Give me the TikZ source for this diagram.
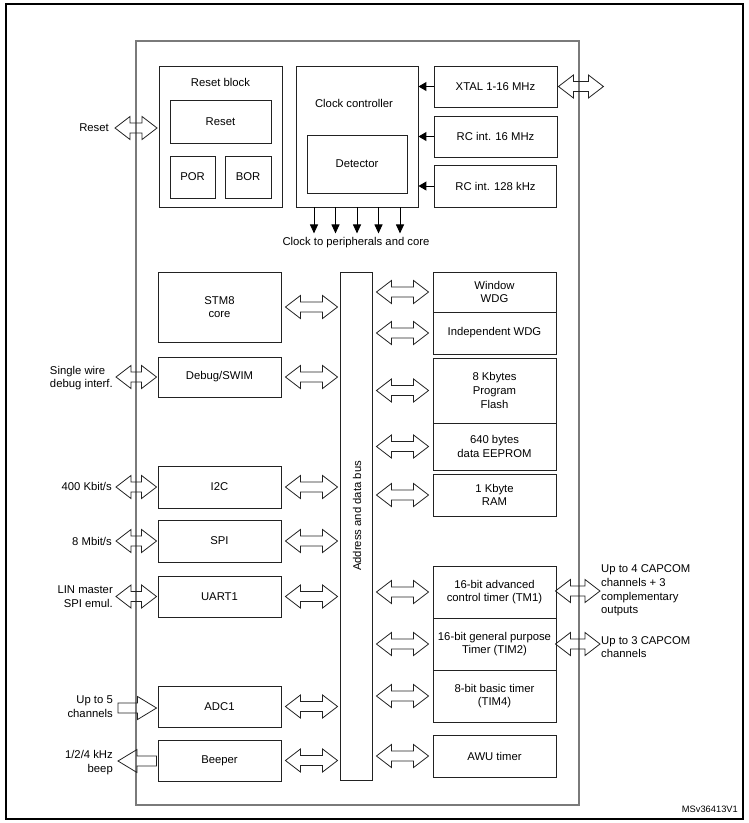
\documentclass[tikz,border=0pt]{standalone}
\usepackage{fontspec}
\setmainfont{Liberation Sans}
\usetikzlibrary{calc,arrows.meta}
\definecolor{boxc}{HTML}{222222}
\definecolor{chipc}{HTML}{7A7A7A}
\newcommand\mainfs{\fontsize{11.3}{13.7}\selectfont}
\newlength\fahl \newlength\fahw \newlength\fasw \newlength\fbhl
\setlength\fahl{15pt}\setlength\fahw{11.5pt}\setlength\fasw{5pt}\setlength\fbhl{19pt}
\newcommand\fatboth[2]{%
 \draw[fat] let \p1=#1, \p2=#2 in
 (\x1,\y1) -- (\x1+\fahl,\y1+\fahw) -- (\x1+\fahl,\y1+\fasw) -- (\x2-\fahl,\y1+\fasw)
 -- (\x2-\fahl,\y1+\fahw) -- (\x2,\y1) -- (\x2-\fahl,\y1-\fahw) -- (\x2-\fahl,\y1-\fasw)
 -- (\x1+\fahl,\y1-\fasw) -- (\x1+\fahl,\y1-\fahw) -- cycle;}
\newcommand\fatright[2]{%
 \draw[fat] let \p1=#1, \p2=#2 in
 (\x1,\y1+\fasw) -- (\x2-\fbhl,\y1+\fasw) -- (\x2-\fbhl,\y1+\fahw) -- (\x2,\y1)
 -- (\x2-\fbhl,\y1-\fahw) -- (\x2-\fbhl,\y1-\fasw) -- (\x1,\y1-\fasw) -- cycle;}
\newcommand\fatleft[2]{%
 \draw[fat] let \p1=#1, \p2=#2 in
 (\x1,\y1) -- (\x1+\fbhl,\y1+\fahw) -- (\x1+\fbhl,\y1+\fasw) -- (\x2,\y1+\fasw)
 -- (\x2,\y1-\fasw) -- (\x1+\fbhl,\y1-\fasw) -- (\x1+\fbhl,\y1-\fahw) -- cycle;}
\tikzset{
 box/.style={draw=boxc, line width=0.9pt, inner sep=0pt, align=center, font=\mainfs},
 lbl/.style={inner sep=0pt, font=\mainfs},
 fat/.style={draw=boxc, line width=0.8pt, line join=miter},
 clkarr/.style={draw=black, line width=1pt, -{Triangle[width=8pt,length=9pt]}},
 inarr/.style={draw=black, line width=1pt, -{Triangle[width=9pt,length=8pt]}},
}
\begin{document}
\begin{tikzpicture}[x=1pt,y=-1pt]
\useasboundingbox (0,0) rectangle (748,823);
% outer frame
\draw[black, line width=1.2pt] (6,4) rectangle (743,819);
% chip frame
\draw[chipc, line width=1.6pt] (136,41) rectangle (579,805);

% reset block
\node[box, minimum width=123pt, minimum height=141pt] (resetblk) at (220.5,136.5) {};
\node[lbl] (resetblklbl) at (220.5,82) {Reset block};
\node[box, minimum width=101pt, minimum height=43pt] (reset) at (220.5,121.5) {Reset};
\node[box, minimum width=45pt, minimum height=42pt] (por) at (192.5,177) {POR};
\node[box, minimum width=46pt, minimum height=42pt] (bor) at (248,177) {BOR};

% clock controller
\node[box, minimum width=122pt, minimum height=141pt] (clk) at (357,136.5) {};
\node[lbl] (clklbl) at (354,103) {Clock controller};
\node[box, minimum width=100pt, minimum height=58pt] (det) at (357,164) {Detector};
\node[box, minimum width=123pt, minimum height=41pt] (xtal) at (495.5,86.5) {XTAL 1-16 MHz};
\node[box, minimum width=123pt, minimum height=41pt] (rc16) at (495.5,136.5) {RC int. 16 MHz};
\node[box, minimum width=122pt, minimum height=42pt] (rc128) at (495.5,186) {RC int. 128 kHz};
\draw[inarr] (xtal.west) -- (xtal.west -| clk.east);
\draw[inarr] (rc16.west) -- (rc16.west -| clk.east);
\draw[inarr] (rc128.west) -- (rc128.west -| clk.east);
\foreach \o in {-43,-21.5,0,21.5,43}
  \draw[clkarr] ([xshift=\o pt]clk.south) -- ++(0,26);
\node[lbl] (clkout) at (356,243) {Clock to peripherals and core};

% left column
\node[box, minimum width=123pt, minimum height=70pt] (stm8) at (219.5,307) {STM8\\core};
\node[box, minimum width=123pt, minimum height=40pt] (debug) at (219.5,377) {Debug/SWIM};
\node[box, minimum width=123pt, minimum height=42pt] (i2c) at (219.5,487) {I2C};
\node[box, minimum width=123pt, minimum height=42pt] (spi) at (219.5,541) {SPI};
\node[box, minimum width=123pt, minimum height=41pt] (uart) at (219.5,596.5) {UART1};
\node[box, minimum width=123pt, minimum height=41pt] (adc) at (219.5,706.5) {ADC1};
\node[box, minimum width=123pt, minimum height=41pt] (beeper) at (219.5,760.5) {Beeper};

% bus
\node[box, minimum width=32pt, minimum height=508pt] (bus) at (356,526) {};
\node[lbl, rotate=90] (buslbl) at (357,516) {Address and data bus};

% right column
\node[box, minimum width=123pt, minimum height=40pt] (wwdg) at (494.5,292) {Window\\WDG};
\node[box, minimum width=123pt, minimum height=42pt] (iwdg) at (494.5,333) {Independent WDG};
\node[box, minimum width=123pt, minimum height=65pt] (flash) at (494.5,390.5) {8 Kbytes\\Program\\Flash};
\node[box, minimum width=123pt, minimum height=47pt] (eeprom) at (494.5,446.5) {640 bytes\\data EEPROM};
\node[box, minimum width=123pt, minimum height=42pt] (ram) at (494.5,495) {1 Kbyte\\RAM};
\node[box, minimum width=123pt, minimum height=52pt] (tim1) at (494.5,592) {16-bit advanced\\control timer (TM1)};
\node[box, minimum width=123pt, minimum height=52pt] (tim2) at (494.5,644) {16-bit general purpose\\Timer (TIM2)};
\node[box, minimum width=123pt, minimum height=52pt] (tim4) at (494.5,696) {8-bit basic timer\\(TIM4)};
\node[box, minimum width=123pt, minimum height=42pt] (awu) at (494.5,756) {AWU timer};

% bus arrows, left
\foreach \bk in {stm8,debug,i2c,spi,uart,adc,beeper}
  \fatboth{([xshift=4pt]\bk.east)}{($(\bk.east -| bus.west)+(-2,0)$)};
% bus arrows, right
\foreach \bk in {wwdg,iwdg,flash,eeprom,ram,tim1,tim2,tim4,awu}
  \fatboth{($(\bk.west -| bus.east)+(4,0)$)}{([xshift=-4pt]\bk.west)};

% external labels, left
\node[lbl, anchor=east] (rstlbl) at (109,128) {Reset};
\node[lbl, anchor=east, align=left] (dbglbl) at (113,378) {Single wire\\debug interf.};
\node[lbl, anchor=east] (i2clbl) at (112,486) {400 Kbit/s};
\node[lbl, anchor=east] (spilbl) at (112,541) {8 Mbit/s};
\node[lbl, anchor=east, align=right] (uartlbl) at (113,597) {LIN master\\SPI emul.};
\node[lbl, anchor=east, align=right] (adclbl) at (113,706.5) {Up to 5\\channels};
\node[lbl, anchor=east, align=right] (beeplbl) at (113,762.5) {1/2/4 kHz\\beep};

\fatboth{($(rstlbl.east)+(6,0)$)}{($(resetblk.west |- rstlbl.east)+(-1.5,0)$)};
\fatboth{($(dbglbl.east |- debug.west)+(3,0)$)}{([xshift=-1pt]debug.west)};
\fatboth{($(i2clbl.east |- i2c.west)+(4,0)$)}{([xshift=-1pt]i2c.west)};
\fatboth{($(spilbl.east |- spi.west)+(4,0)$)}{([xshift=-1pt]spi.west)};
\fatboth{($(uartlbl.east |- uart.west)+(3,0)$)}{([xshift=-1pt]uart.west)};
\fatright{($(adclbl.east |- adc.west)+(5,1.5)$)}{([xshift=-1pt,yshift=-1.5pt]adc.west)};
\fatleft{($(beeplbl.east |- beeper.west)+(5,0.5)$)}{([xshift=-1pt,yshift=-0.5pt]beeper.west)};

% external labels and arrows, right
\coordinate (xtalx) at ($(xtal.east)+(46,0)$);
\fatboth{([xshift=1pt]xtal.east)}{(xtalx)};
\node[lbl, anchor=west, align=left] (tim1lbl) at (601,590.5) {Up to 4 CAPCOM\\channels + 3\\complementary\\outputs};
\node[lbl, anchor=west, align=left] (tim2lbl) at (601,647) {Up to 3 CAPCOM\\channels};
\fatboth{([xshift=-1pt,yshift=1pt]tim1.east)}{($(tim1lbl.west |- tim1.east)+(-1,1)$)};
\fatboth{([xshift=-1pt]tim2.east)}{($(tim2lbl.west |- tim2.east)+(-1,0)$)};

\node[inner sep=0pt, font=\fontsize{9.3}{11}\selectfont, anchor=east] (ver) at (738,809) {MSv36413V1};
\end{tikzpicture}
\end{document}
